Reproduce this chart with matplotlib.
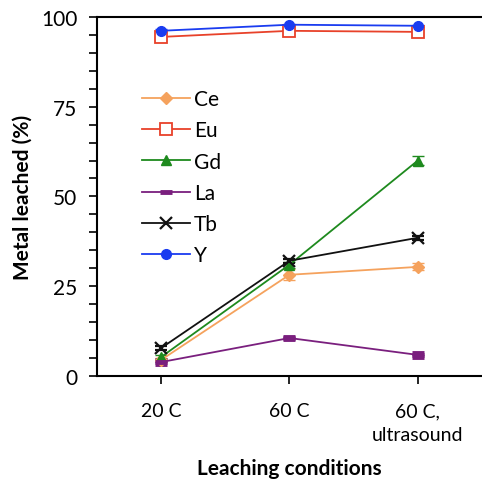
import numpy as np
import matplotlib.pyplot as plt
from matplotlib.ticker import MultipleLocator
from matplotlib.lines import Line2D

plt.rcParams['font.family'] = ['Lato', 'DejaVu Sans']

conditions = ["20 C", "60 C", "60 C,\nultrasound"]
ce = [4.5, 28.2, 30.4]
eu = [94.4, 96.1, 95.8]
gd = [5.3, 31.0, 60.0]
la = [3.9, 10.6, 5.9]
tb = [7.8, 32.1, 38.5]
y_ = [96.1, 97.8, 97.5]
ce_err = [0.5, 1.5, 1.0]
eu_err = [0.5, 0.5, 0.5]
gd_err = [0.5, 0.8, 1.2]
la_err = [0.5, 0.4, 0.5]
tb_err = [0.5, 0.5, 0.5]
y_err = [0.4, 0.3, 0.3]

x = np.arange(len(conditions)) + 0.5

fig = plt.figure(figsize=(4.82, 4.81), dpi=100)
ax = fig.add_axes([0.201, 0.216, 0.799, 0.747])

series = [
    ("Ce", ce, ce_err, '#f5a25d', dict(marker='D', ms=6, mfc='#f5a25d')),
    ("Eu", eu, eu_err, '#e8412a', dict(marker='s', ms=8, mfc='white', mew=1.3)),
    ("Gd", gd, gd_err, '#1e8a1e', dict(marker='^', ms=7, mfc='#1e8a1e')),
    ("La", la, la_err, '#7a1f7e', dict(marker='_', ms=9, mew=3.5)),
    ("Tb", tb, tb_err, '#111111', dict(marker='x', ms=8, mew=1.6)),
    ("Y", y_, y_err, '#1a3cf0', dict(marker='o', ms=7, mfc='#1a3cf0')),
]
handles = []
for name, vals, err, col, mk in series:
    ax.errorbar(x, vals, yerr=err, color=col, mec=col, lw=1.3,
                capsize=4, elinewidth=1, **mk)
    handles.append(Line2D([], [], color=col, mec=col, lw=1.3, label=name, **mk))

ax.set_xlim(0, 3)
ax.set_ylim(0, 100)
ax.set_xticks(x)
ax.set_xticklabels(conditions, fontsize=14, linespacing=1.45)
ax.yaxis.set_major_locator(MultipleLocator(25))
ax.yaxis.set_minor_locator(MultipleLocator(5))
ax.tick_params(axis='y', which='major', length=6, width=1.2, labelsize=15,
               direction='out', pad=8)
ax.tick_params(axis='y', which='minor', length=6, width=1.2, direction='out')
ax.tick_params(axis='x', length=6, width=1.2, direction='out', pad=13)
ax.spines['right'].set_visible(False)
for s in ['left', 'bottom', 'top']:
    ax.spines[s].set_linewidth(1.5)

ax.set_ylabel("Metal leached (%)", fontsize=15, fontweight='bold', labelpad=6)
ax.set_xlabel("Leaching conditions", fontsize=15, fontweight='bold', labelpad=11)

leg = ax.legend(handles=handles, loc='upper left', bbox_to_anchor=(0.095, 0.822),
                frameon=False, fontsize=15, handlelength=2.3, handletextpad=0.2,
                labelspacing=0.54, borderaxespad=0)

fig.savefig("out.png", dpi=100)
